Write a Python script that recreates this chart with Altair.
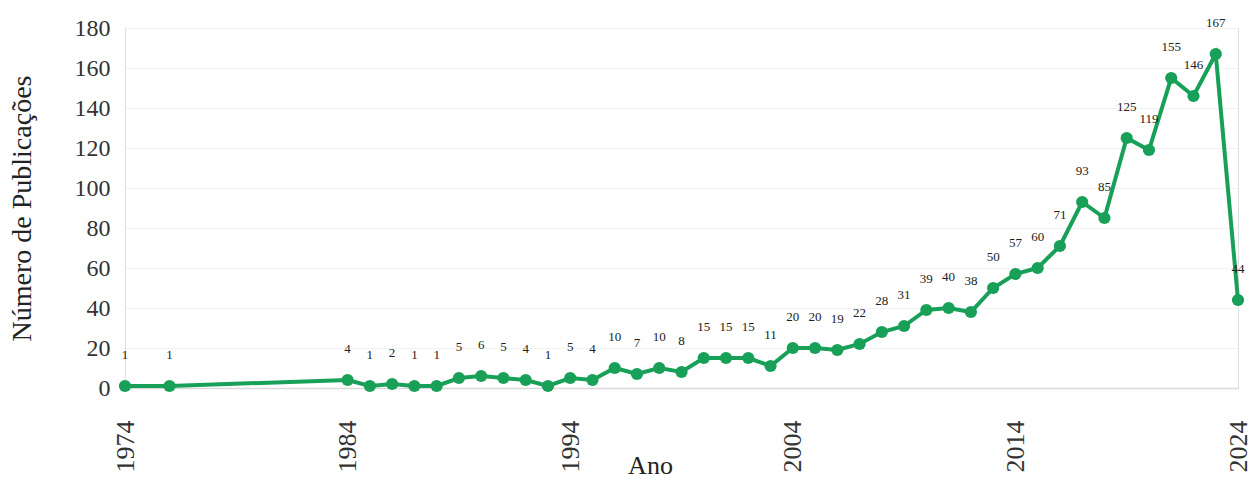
import altair as alt
import pandas as pd

years = [1974, 1976, 1984, 1985, 1986, 1987, 1988, 1989, 1990, 1991, 1992, 1993,
         1994, 1995, 1996, 1997, 1998, 1999, 2000, 2001, 2002, 2003, 2004, 2005,
         2006, 2007, 2008, 2009, 2010, 2011, 2012, 2013, 2014, 2015, 2016, 2017,
         2018, 2019, 2020, 2021, 2022, 2023, 2024]
counts = [1, 1, 4, 1, 2, 1, 1, 5, 6, 5, 4, 1,
          5, 4, 10, 7, 10, 8, 15, 15, 15, 11, 20, 20,
          19, 22, 28, 31, 39, 40, 38, 50, 57, 60, 71, 93,
          85, 125, 119, 155, 146, 167, 44]
x_ticks = [1974, 1984, 1994, 2004, 2014, 2024]
y_ticks = [0, 20, 40, 60, 80, 100, 120, 140, 160, 180]

df = pd.DataFrame({"Ano": years, "Publicacoes": counts})

GREEN = "#18a058"
FONT = "Liberation Serif"

base = alt.Chart(df).encode(
    x=alt.X("Ano:Q",
            scale=alt.Scale(domain=[1974, 2024], nice=False, zero=False),
            axis=alt.Axis(values=x_ticks, format="d", labelAngle=-90, title="Ano",
                          grid=False, ticks=False, labelPadding=32,
                          labelFontSize=26, labelFont=FONT, labelColor="#333333",
                          titleFontSize=26, titleFont=FONT, titleFontWeight="normal",
                          titleColor="#222222", titleX=525, titleY=85,
                          titleBaseline="alphabetic",
                          domainColor="#d9d9d9", domainWidth=1.5)),
    y=alt.Y("Publicacoes:Q",
            scale=alt.Scale(domain=[0, 180], nice=False),
            axis=alt.Axis(values=y_ticks, title="Número de Publicações",
                          grid=True, gridColor="#f2f2f2", ticks=False,
                          labelPadding=15, labelFontSize=24, labelFont=FONT,
                          labelColor="#333333",
                          titleFontSize=28, titleFont=FONT, titleFontWeight="normal",
                          titleColor="#222222", titlePadding=38,
                          domainColor="#e0e0e0")),
)

line = base.mark_line(color=GREEN, strokeWidth=4)
points = base.mark_circle(color=GREEN, size=150, opacity=1)
labels = base.mark_text(dy=-31, fontSize=13, font=FONT, color="#222222").encode(
    text=alt.Text("Publicacoes:Q"))

chart = (line + points + labels).properties(
    width=1113, height=360,
    autosize=alt.AutoSizeParams(type="none"),
    padding={"left": 125, "top": 28, "right": 13, "bottom": 92},
).configure_view(stroke=None).configure(background="white")

chart.save("out.html", embed_options={"renderer": "svg", "actions": False})
